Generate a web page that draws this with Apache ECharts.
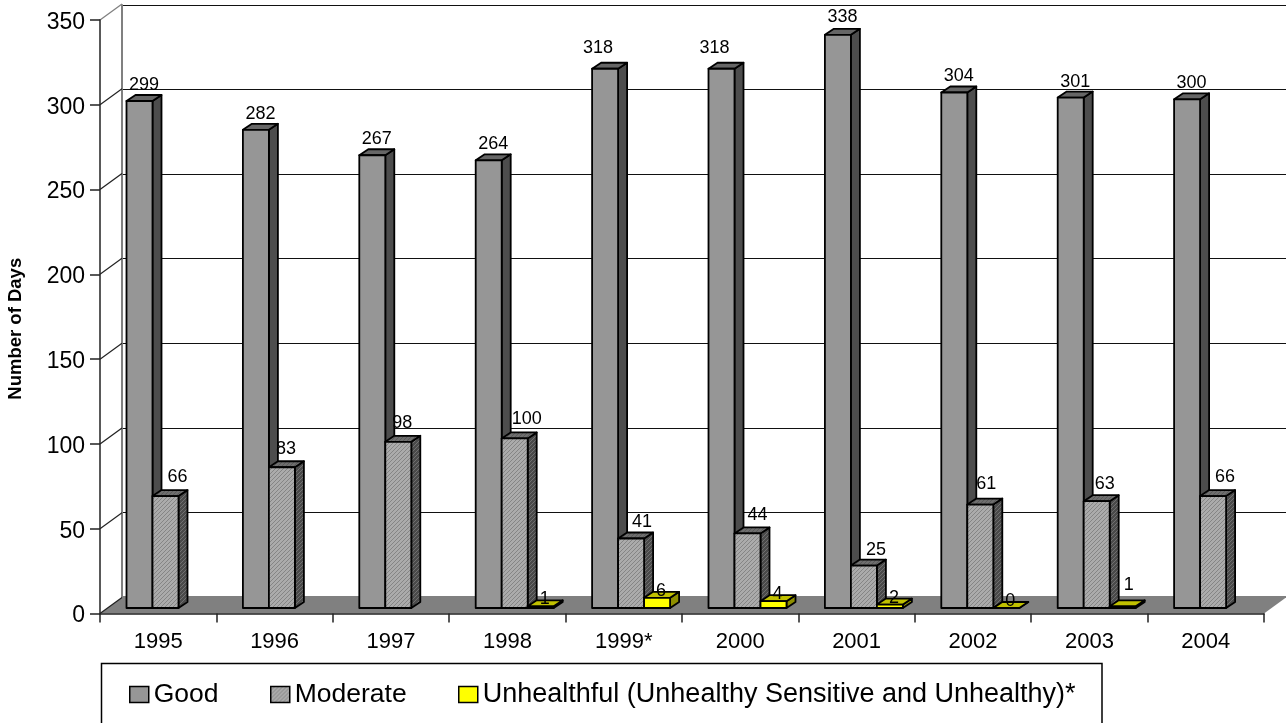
<!DOCTYPE html>
<html>
<head>
<meta charset="utf-8">
<style>
  html, body { margin: 0; padding: 0; background: #fff; overflow: hidden; }
  #main { width: 1286px; height: 723px; }
</style>
<script src="https://cdn.jsdelivr.net/npm/echarts@6/dist/echarts.min.js"></script>
</head>
<body>
<div id="main"></div>
<script>
var years = ['1995', '1996', '1997', '1998', '1999*', '2000', '2001', '2002', '2003', '2004'];
var good = [299, 282, 267, 264, 318, 318, 338, 304, 301, 300];
var moderate = [66, 83, 98, 100, 41, 44, 25, 61, 63, 66];
var unhealthful = [null, null, null, 1, 6, 4, 2, 0, 1, null];
var yTicks = [0, 50, 100, 150, 200, 250, 300, 350];

var FONT = '"Liberation Sans", Arial, sans-serif';
var BAR_W = 26;      // front face width
var DEPTH_X = 9;     // bar depth
var DEPTH_Y = 6;
var WALL_X = 22;     // front axis to back wall
var WALL_Y = 16;
var LIFT_X = 7.3;    // bars stand a bit inside the floor
var LIFT_Y = 5.5;

// label spots relative to the front top left corner of a bar
var labelDefault = [[17.5, -16], [25, -19], [17, -7]];
var labelNudge = {
  '0:4': [6, -21], '0:5': [6, -21], '0:6': [17.5, -18],
  '1:1': [17, -18], '1:2': [17, -19], '1:4': [24, -16], '1:5': [23, -18], '1:6': [25, -16],
  '1:7': [19, -21], '1:8': [21, -17],
  '2:8': [19, -21]
};

function hatch(base, line) {
  var c = document.createElement('canvas');
  c.width = 4;
  c.height = 4;
  var ctx = c.getContext('2d');
  ctx.fillStyle = base;
  ctx.fillRect(0, 0, 4, 4);
  ctx.fillStyle = line;
  for (var i = 0; i < 4; i++) {
    ctx.fillRect(i, 3 - i, 1, 1);
  }
  return { image: c, repeat: 'repeat' };
}

var styles = [
  { front: '#969696', top: '#666666', side: '#4d4d4d' },
  { front: hatch('#ababab', '#858585'), top: hatch('#6e6e6e', '#5a5a5a'), side: hatch('#4a4a4a', '#707070') },
  { front: '#ffff00', top: '#c0c000', side: '#8f8f00' }
];

function barItem(seriesIndex) {
  return function (params, api) {
    var v = api.value(1);
    if (v == null || isNaN(v)) return;
    var i = api.value(0);
    var s = styles[seriesIndex];
    var top = api.coord([i, v]);
    var base = api.coord([i, 0]);
    var l = top[0] - BAR_W * 1.5 + LIFT_X + seriesIndex * BAR_W;
    var r = l + BAR_W;
    var t = top[1] - LIFT_Y;
    var b = base[1] - LIFT_Y;
    var edge = { stroke: '#000', lineWidth: 1.8, lineJoin: 'round' };
    var spot = labelNudge[seriesIndex + ':' + i] || labelDefault[seriesIndex];
    return {
      type: 'group',
      children: [
        {
          type: 'polygon',
          shape: { points: [[r, t], [r + DEPTH_X, t - DEPTH_Y], [r + DEPTH_X, b - DEPTH_Y], [r, b]] },
          style: Object.assign({ fill: s.side }, edge)
        },
        {
          type: 'polygon',
          shape: { points: [[l, t], [l + DEPTH_X, t - DEPTH_Y], [r + DEPTH_X, t - DEPTH_Y], [r, t]] },
          style: Object.assign({ fill: s.top }, edge)
        },
        {
          type: 'rect',
          shape: { x: l, y: t, width: BAR_W, height: b - t },
          style: Object.assign({ fill: s.front }, edge)
        },
        {
          type: 'text',
          z2: 10,
          style: {
            x: l + spot[0],
            y: t + spot[1],
            text: String(v),
            fill: '#000',
            font: '18px ' + FONT,
            align: 'center',
            verticalAlign: 'middle'
          }
        }
      ]
    };
  };
}

function barSeries(name, values, index) {
  return {
    name: name,
    type: 'custom',
    xAxisIndex: 0,
    yAxisIndex: 0,
    z: 4 + index,
    clip: false,
    itemStyle: { color: styles[index].front },
    encode: { x: 0, y: 1 },
    data: values.map(function (v, i) { return [i, v]; }),
    renderItem: barItem(index)
  };
}

function legendFor(name, left, color, size) {
  return {
    data: [{ name: name, itemStyle: { color: color, borderColor: '#000', borderWidth: 1.5 } }],
    left: left,
    top: 681,
    padding: 0,
    icon: 'rect',
    itemWidth: 19,
    itemHeight: 16,
    itemGap: 0,
    textStyle: { fontFamily: FONT, fontSize: size, color: '#000' }
  };
}

var chart = echarts.init(document.getElementById('main'));

var option = {
  animation: false,
  backgroundColor: '#fff',
  legend: [
    legendFor('Good', 129, styles[0].front, 26.5),
    legendFor('Moderate', 270, styles[1].front, 26.5),
    legendFor('Unhealthful (Unhealthy Sensitive and Unhealthy)*', 458, styles[2].front, 27)
  ],
  grid: [
    { left: 100, right: 22, top: 20, height: 593.5, outerBoundsMode: 'none' },
    { left: 122, right: 0, top: 5, height: 592, outerBoundsMode: 'none' }
  ],
  xAxis: [
    {
      type: 'category',
      gridIndex: 0,
      data: years,
      z: 6,
      axisLine: { lineStyle: { color: '#222', width: 1.5 } },
      axisTick: { show: true, length: 9, lineStyle: { color: '#222', width: 1.5 } },
      axisLabel: { color: '#000', fontFamily: FONT, fontSize: 22, margin: 17 }
    },
    {
      type: 'category',
      gridIndex: 1,
      position: 'top',
      data: years,
      axisLine: { lineStyle: { color: '#808080', width: 2 } },
      axisTick: { show: false },
      axisLabel: { show: false }
    }
  ],
  yAxis: [
    {
      type: 'value',
      gridIndex: 0,
      min: 0,
      max: 350,
      interval: 50,
      z: 6,
      name: 'Number of Days',
      nameLocation: 'middle',
      nameGap: 75,
      nameTextStyle: { color: '#000', fontFamily: FONT, fontSize: 18.5, fontWeight: 'bold', padding: [0, 24, 0, 0] },
      axisLine: { show: true, lineStyle: { color: '#222', width: 1.5 } },
      axisTick: { show: true, length: 10, lineStyle: { color: '#222', width: 1.5 } },
      axisLabel: {
        color: '#000',
        margin: 15,
        formatter: '{a|{value}}',
        rich: { a: { color: '#000', fontFamily: FONT, fontSize: 23, padding: [5, 0, 0, 0] } }
      },
      splitLine: { show: false }
    },
    {
      type: 'value',
      gridIndex: 1,
      min: 0,
      max: 350,
      interval: 50,
      axisLine: { show: true, lineStyle: { color: '#808080', width: 2 } },
      axisTick: { show: false },
      axisLabel: { show: false },
      splitLine: { show: true, lineStyle: { color: '#111', width: 1.2 } }
    }
  ],
  graphic: [{
    type: 'rect',
    z: 1,
    shape: { x: 101.5, y: 663.5, width: 1000.5, height: 70 },
    style: { fill: '#fff', stroke: '#000', lineWidth: 1.5 }
  }],
  series: [
    {
      // floor of the 3d box
      type: 'custom',
      xAxisIndex: 0,
      yAxisIndex: 0,
      z: 2,
      clip: false,
      silent: true,
      data: [[0, 0]],
      renderItem: function (params) {
        var g = params.coordSys;
        var b = g.y + g.height;
        var r = g.x + g.width;
        return {
          type: 'polygon',
          shape: { points: [[g.x, b], [g.x + WALL_X, b - WALL_Y], [r + WALL_X, b - WALL_Y], [r, b]] },
          style: { fill: '#808080' }
        };
      }
    },
    {
      // diagonals from the front axis to the back wall
      type: 'custom',
      xAxisIndex: 0,
      yAxisIndex: 0,
      z: 3,
      clip: false,
      silent: true,
      encode: { y: 1 },
      data: yTicks.map(function (v) { return [0, v]; }),
      renderItem: function (params, api) {
        var v = api.value(1);
        var y = api.coord([0, v])[1];
        var x = params.coordSys.x;
        return {
          type: 'line',
          shape: { x1: x, y1: y, x2: x + WALL_X, y2: y - WALL_Y },
          style: { stroke: v === 350 ? '#808080' : '#222', lineWidth: 1.2 }
        };
      }
    },
    barSeries('Good', good, 0),
    barSeries('Moderate', moderate, 1),
    barSeries('Unhealthful (Unhealthy Sensitive and Unhealthy)*', unhealthful, 2)
  ]
};

chart.setOption(option);
</script>
</body>
</html>
